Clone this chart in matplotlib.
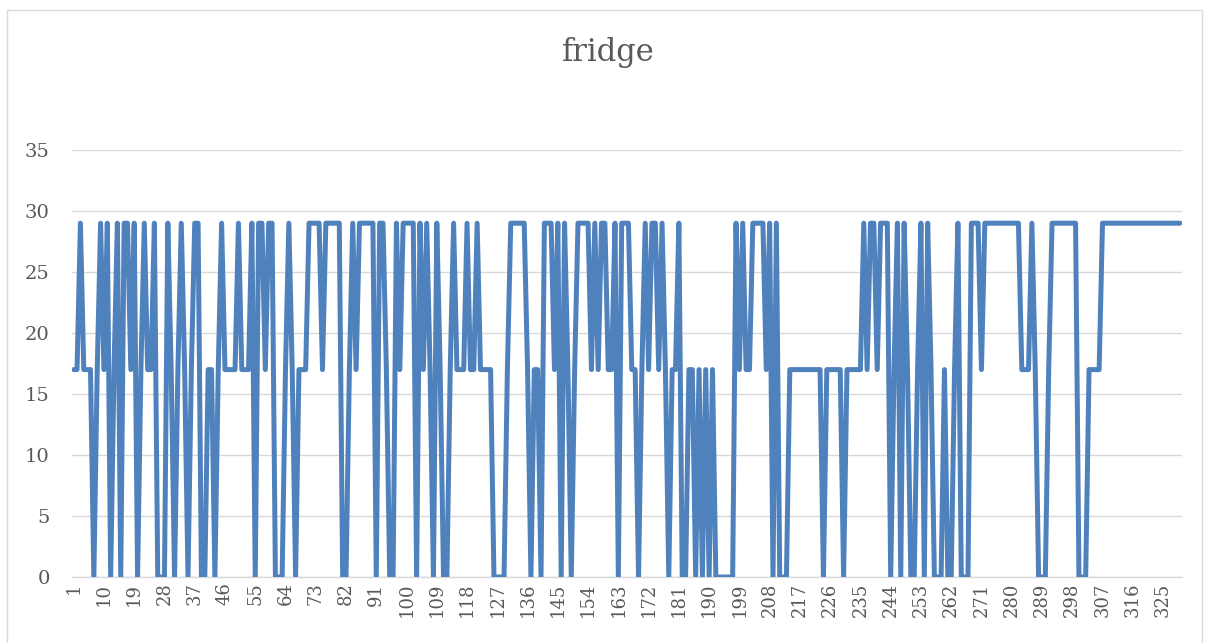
import matplotlib
matplotlib.use("Agg")
import matplotlib.pyplot as plt
from matplotlib.patches import Rectangle

# fridge readings, one per sample (1..330)
fridge = [
    17, 17, 29, 17, 17, 17, 0, 17, 29, 17,
    29, 0, 17, 29, 0, 29, 29, 17, 29, 0,
    17, 29, 17, 17, 29, 0, 0, 0, 29, 17,
    0, 17, 29, 17, 0, 17, 29, 29, 0, 0,
    17, 17, 0, 17, 29, 17, 17, 17, 17, 29,
    17, 17, 17, 29, 0, 29, 29, 17, 29, 29,
    0, 0, 0, 17, 29, 17, 0, 17, 17, 17,
    29, 29, 29, 29, 17, 29, 29, 29, 29, 29,
    0, 0, 17, 29, 17, 29, 29, 29, 29, 29,
    0, 29, 29, 17, 0, 0, 29, 17, 29, 29,
    29, 29, 0, 29, 17, 29, 17, 0, 29, 17,
    0, 0, 17, 29, 17, 17, 17, 29, 17, 17,
    29, 17, 17, 17, 17, 0, 0, 0, 0, 17,
    29, 29, 29, 29, 29, 17, 0, 17, 17, 0,
    29, 29, 29, 17, 29, 0, 29, 17, 0, 17,
    29, 29, 29, 29, 17, 29, 17, 29, 29, 17,
    17, 29, 0, 29, 29, 29, 17, 17, 0, 17,
    29, 17, 29, 29, 17, 29, 17, 0, 17, 17,
    29, 0, 0, 17, 17, 0, 17, 0, 17, 0,
    17, 0, 0, 0, 0, 0, 0, 29, 17, 29,
    17, 17, 29, 29, 29, 29, 17, 29, 0, 29,
    0, 0, 0, 17, 17, 17, 17, 17, 17, 17,
    17, 17, 17, 0, 17, 17, 17, 17, 17, 0,
    17, 17, 17, 17, 17, 29, 17, 29, 29, 17,
    29, 29, 29, 0, 17, 29, 0, 29, 17, 0,
    0, 17, 29, 0, 29, 17, 0, 0, 0, 17,
    0, 0, 17, 29, 0, 0, 0, 29, 29, 29,
    17, 29, 29, 29, 29, 29, 29, 29, 29, 29,
    29, 29, 17, 17, 17, 29, 17, 0, 0, 0,
    17, 29, 29, 29, 29, 29, 29, 29, 29, 0,
    0, 0, 17, 17, 17, 17, 29, 29, 29, 29,
    29, 29, 29, 29, 29, 29, 29, 29, 29, 29,
    29, 29, 29, 29, 29, 29, 29, 29, 29, 29,
]
samples = list(range(1, len(fridge) + 1))

x_labels = [1, 10, 19, 28, 37, 46, 55, 64, 73, 82, 91, 100, 109, 118, 127,
            136, 145, 154, 163, 172, 181, 190, 199, 208, 217, 226, 235, 244,
            253, 262, 271, 280, 289, 298, 307, 316, 325]
y_ticks = [0, 5, 10, 15, 20, 25, 30, 35]

W, H = 1205, 643
fig = plt.figure(figsize=(W / 100, H / 100), dpi=100)
plt.rcParams['font.family'] = ['DejaVu Serif']

ax = fig.add_axes([72 / W, 1 - 577 / H, (1181.5 - 72) / W, (577 - 150) / H])
ax.plot(samples, fridge, color='#4f81bd', linewidth=3.6,
        solid_joinstyle='round', solid_capstyle='round', zorder=3)

ax.set_xlim(0.5, len(fridge) + 0.5)
ax.set_ylim(0, 35)
ax.set_yticks(y_ticks)
ax.set_xticks(x_labels)
ax.set_xticklabels([str(v) for v in x_labels], rotation=90, va='top', ha='center')

ax.grid(axis='y', color='#d9d9d9', linewidth=1.0, zorder=0)
ax.set_axisbelow(True)
for side in ['top', 'right', 'left']:
    ax.spines[side].set_visible(False)
ax.spines['bottom'].set_color('#d9d9d9')
ax.spines['bottom'].set_linewidth(1.0)

ax.tick_params(axis='y', length=0, pad=16, labelsize=14, labelcolor='#595959')
ax.tick_params(axis='x', length=0, pad=4, labelsize=13, labelcolor='#595959')

fig.text(608 / W, 1 - 53 / H, 'fridge', ha='center', va='center',
         fontsize=22, color='#595959')

# chart area border
fig.add_artist(Rectangle((7 / W, -0.05), (1202 - 7) / W, 1.05 - 10 / H,
                         transform=fig.transFigure, fill=False,
                         edgecolor='#d9d9d9', linewidth=1.0))

plt.savefig('out.png', dpi=100)
